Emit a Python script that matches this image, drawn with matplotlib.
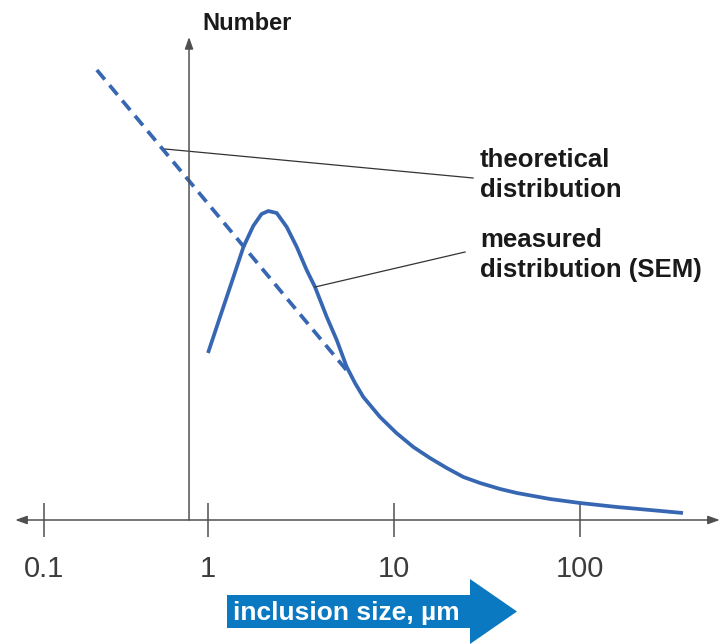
import numpy as np
import matplotlib
matplotlib.use('Agg')
import matplotlib.pyplot as plt
from matplotlib.patches import FancyArrow

# inclusion size (um) vs number
meas_size = [1.0, 1.16, 1.37, 1.55, 1.75, 1.94, 2.11, 2.34, 2.65, 3.00, 3.39, 3.76,
             4.35, 4.92, 5.57, 6.17, 6.84, 8.41, 10.3, 12.7, 15.6, 19.2, 23.6, 29.0,
             37.2, 45.8, 69.0, 100, 158, 238, 358]
meas_num = [1.67, 2.03, 2.43, 2.73, 2.94, 3.06, 3.09, 3.07, 2.93, 2.73, 2.50, 2.33,
            2.03, 1.80, 1.53, 1.37, 1.23, 1.03, 0.87, 0.73, 0.62, 0.52, 0.43, 0.37,
            0.31, 0.27, 0.21, 0.17, 0.13, 0.10, 0.07]
theo_size = [0.21, 5.66]
theo_num = [4.50, 1.48]

tick_vals = [0.1, 1, 10, 100]
tick_labels = ['0.1', '1', '10', '100']
yaxis_at = 0.766

# the drawing has a shorter first decade than the others
def fwd(x):
    lg = np.log10(np.clip(np.asarray(x, dtype=float), 1e-12, None))
    return np.where(lg < 0, lg * 164 / 186, lg)

def inv(t):
    t = np.asarray(t, dtype=float)
    return 10 ** np.where(t < 0, t * 186 / 164, t)

blue = '#3767b3'
grey = '#505050'
plt.rcParams['font.family'] = ['Liberation Sans', 'DejaVu Sans']

fig = plt.figure(figsize=(7.22, 6.44), dpi=100)
ax = fig.add_axes([0, 0, 1, 1])
ax.set_xscale('function', functions=(fwd, inv))
ax.set_xlim(0.0539, 580)
ax.set_ylim(-1.24, 5.20)

for s in ax.spines.values():
    s.set_visible(False)
ax.spines['bottom'].set_position(('data', 0))
ax.set_xticks(tick_vals)
ax.set_xticklabels(tick_labels, fontsize=21, color='#3c3c3c')
ax.xaxis.set_minor_locator(matplotlib.ticker.NullLocator())
ax.tick_params(axis='x', direction='inout', length=25, width=1.1, color=grey, pad=13)
ax.set_yticks([])

# axes with arrow heads
ax.annotate('', xy=(0.997, 0), xytext=(0.021, 0), xycoords=('axes fraction', 'data'),
            arrowprops=dict(arrowstyle='<|-|>,head_length=0.7,head_width=0.25',
                            color=grey, lw=1.1, shrinkA=0, shrinkB=0))
ax.annotate('', xy=(yaxis_at, 4.83), xytext=(yaxis_at, 0),
            arrowprops=dict(arrowstyle='-|>,head_length=0.7,head_width=0.25',
                            color=grey, lw=1.1, shrinkA=0, shrinkB=0))

ax.plot(theo_size, theo_num, color=blue, lw=2.7, dashes=(3.3, 2.0), dash_capstyle='butt')
ax.plot(meas_size, meas_num, color=blue, lw=2.7, solid_capstyle='butt',
        solid_joinstyle='round')

# leader lines to the labels
ax.plot([0.547, 26.6], [3.71, 3.42], color='#333333', lw=0.9)
ax.plot([3.76, 24.1], [2.33, 2.68], color='#333333', lw=0.9)

txt = dict(fontsize=18.5, fontweight='bold', color='#1a1a1a', va='baseline', ha='left')
fig.text(202 / 722, 1 - 30 / 644, 'Number', **dict(txt, fontsize=17))
fig.text(480 / 722, 1 - 167 / 644, 'theoretical', **txt)
fig.text(480 / 722, 1 - 197 / 644, 'distribution', **txt)
fig.text(480 / 722, 1 - 247 / 644, 'measured', **txt)
fig.text(480 / 722, 1 - 277 / 644, 'distribution (SEM)', **txt)

arr = FancyArrow(227 / 722, 1 - 611.5 / 644, 290 / 722, 0, width=33 / 644,
                 head_width=65 / 644, head_length=47 / 722, length_includes_head=True,
                 transform=fig.transFigure, color='#0a79c2', lw=0)
fig.add_artist(arr)
fig.text(233 / 722, 1 - 620 / 644, 'inclusion size, µm', fontsize=19, fontweight='bold',
         color='white', va='baseline', ha='left')

fig.savefig('out.png', dpi=100)
